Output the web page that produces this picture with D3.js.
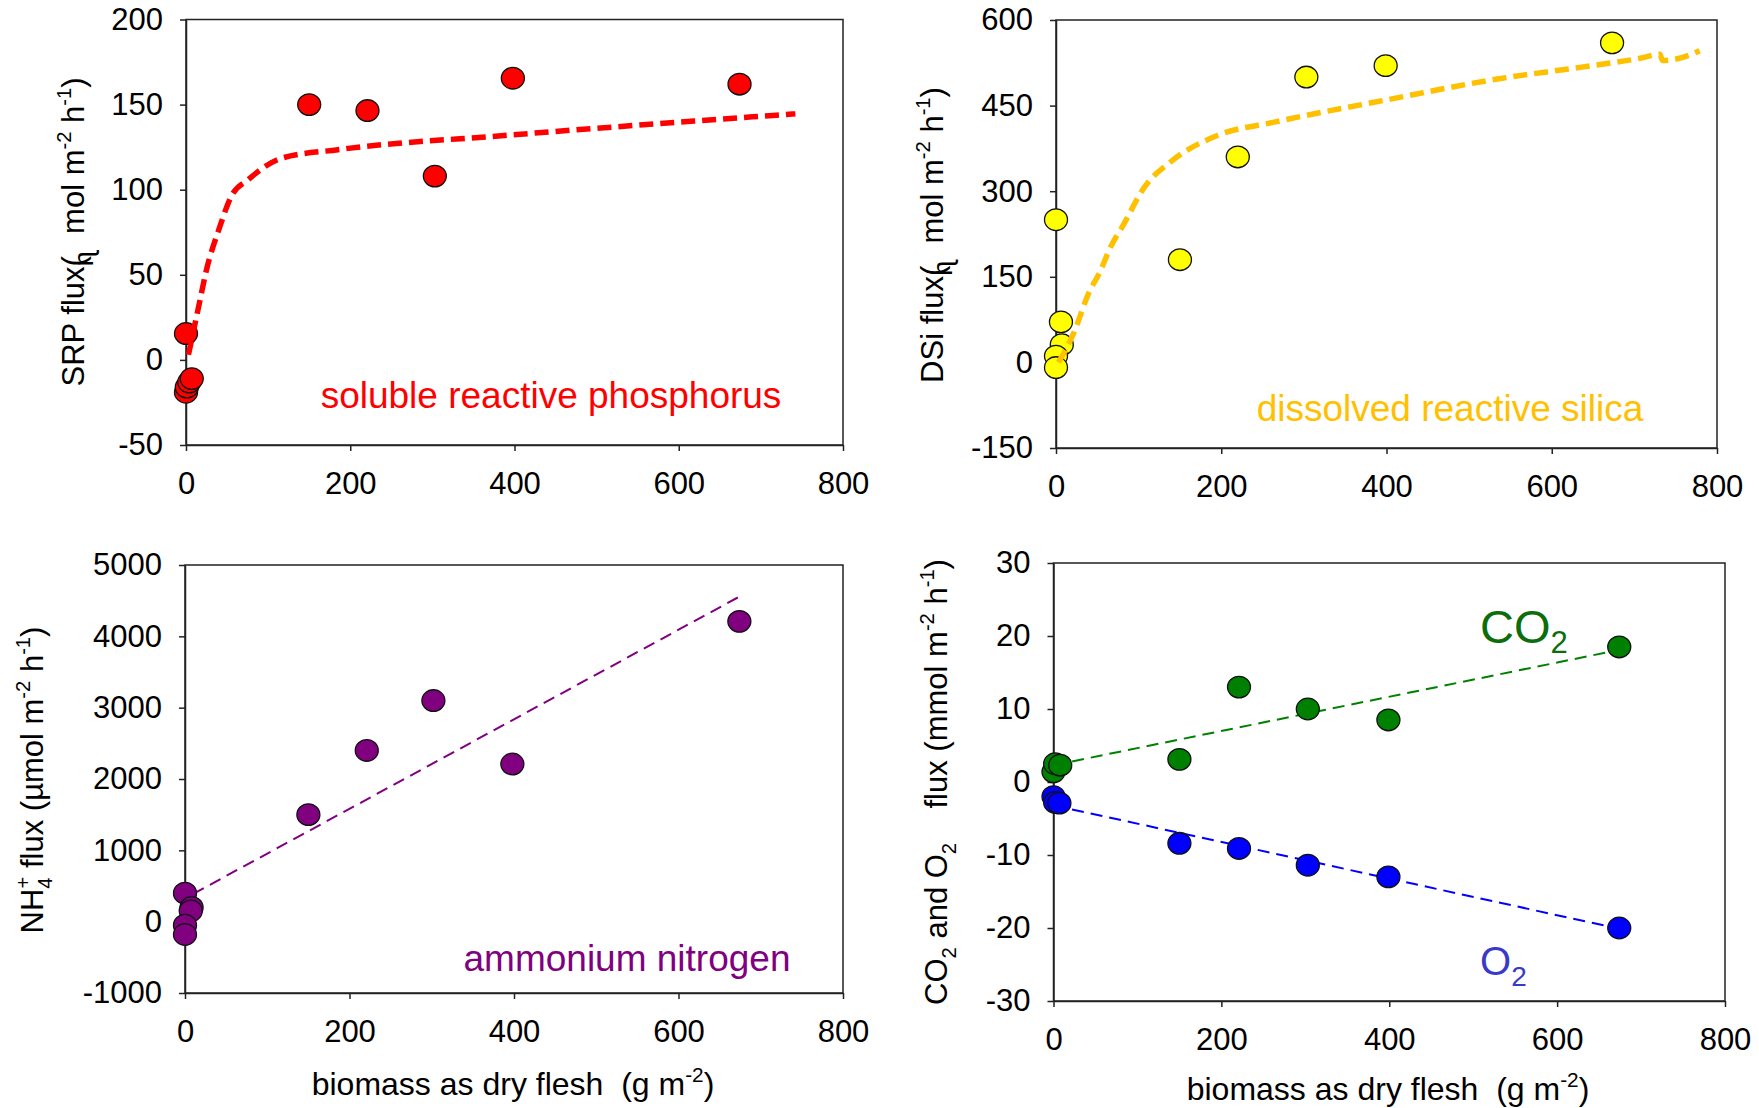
<!DOCTYPE html>
<html lang='en'>
<head>
<meta charset='UTF-8'>
<title>Nutrient and gas fluxes vs biomass</title>
<style>
  body { margin: 0; background: #fff; }
  svg text { font-family: 'Liberation Sans', Arial, sans-serif; white-space: pre; }
</style>
</head>
<body>
<svg id='chart' width='1759' height='1108'></svg>
<script src='https://d3js.org/d3.v7.min.js'></script>
<script>
// shared x axis
const xTicks = [0, 200, 400, 600, 800];

// soluble reactive phosphorus
const srpBiomass = [0, 0, 1, 4, 7, 150, 221, 303, 398, 674];
const srpFlux = [15.5, -19, -16, -13, -11, 150, 146.5, 108, 165.5, 162];
const srpFitX = [3, 17, 24, 41, 55, 76, 117, 185, 392, 742];
const srpFitY = [3, 35, 51, 78, 96, 106, 118.6, 123.5, 132, 144.6];
const srpTicks = [-50, 0, 50, 100, 150, 200];

// dissolved reactive silica
const dsiBiomass = [0, 6, 7, 0, 0, 150, 220, 303, 399, 673];
const dsiFlux = [250, 71, 31, 11, -9, 180, 360, 500, 520, 560];
const dsiFitX = [3, 21, 41, 52, 67, 80, 107, 141, 196, 264, 400, 536, 634, 707, 731, 734, 752, 779];
const dsiFitY = [0, 50, 126, 155, 205, 237, 307, 354, 398, 421, 460, 497, 517, 533, 540, 529, 532, 546];
const dsiTicks = [-150, 0, 150, 300, 450, 600];

// ammonium nitrogen
const nh4Biomass = [0, 8, 7, 0, 0, 150, 221, 302, 398, 674];
const nh4Flux = [400, 200, 150, -50, -180, 1500, 2400, 3100, 2210, 4210];
const nh4TrendX = [10, 673];
const nh4TrendY = [390, 4550];
const nh4Ticks = [-1000, 0, 1000, 2000, 3000, 4000, 5000];

// CO2 and O2
const co2Biomass = [0, 2, 8, 150, 221, 303, 399, 674];
const co2Flux = [1.4, 2.5, 2.3, 3.1, 13, 10, 8.5, 18.5];
const co2TrendX = [0, 674];
const co2TrendY = [2.3, 18.1];
const o2Biomass = [0, 2, 7, 150, 221, 303, 399, 674];
const o2Flux = [-2, -2.8, -2.9, -8.4, -9.1, -11.4, -13, -20];
const o2TrendX = [0, 674];
const o2TrendY = [-3.2, -20.1];
const gasTicks = [-30, -20, -10, 0, 10, 20, 30];

const svg = d3.select('#chart');
const zip = (a, b) => a.map((v, i) => [v, b[i]]);
const plain = d => String(d);

function rich(sel, parts, base) {
  let shift = 0;
  parts.forEach(([s, kind, dx, size]) => {
    const target = kind === 'sup' ? -base * 0.42 : kind === 'sub' ? base * 0.28 : 0;
    sel.append('tspan')
      .attr('dy', target - shift)
      .attr('dx', dx || 0)
      .attr('font-size', size || (kind ? base * 0.65 : base))
      .text(s);
    shift = target;
  });
}

function panel(o) {
  const x = d3.scaleLinear().domain([0, 800]).range([o.left, o.right]);
  const y = d3.scaleLinear().domain(d3.extent(o.yTicks)).range([o.bottom, o.top]);
  const g = svg.append('g');

  g.append('rect')
    .attr('x', o.left).attr('y', o.top)
    .attr('width', o.right - o.left).attr('height', o.bottom - o.top)
    .attr('fill', 'none').attr('stroke', '#222').attr('stroke-width', 1.5);

  const ax = g.append('g')
    .attr('transform', `translate(0,${o.bottom})`)
    .call(d3.axisBottom(x).tickValues(xTicks).tickFormat(plain).tickSize(6).tickSizeOuter(0).tickPadding(21));
  const ay = g.append('g')
    .attr('transform', `translate(${o.left},0)`)
    .call(d3.axisLeft(y).tickValues(o.yTicks).tickFormat(plain).tickSize(6).tickSizeOuter(0).tickPadding(17));
  [ax, ay].forEach(a => {
    a.selectAll('text').attr('font-size', 31).attr('fill', '#000').attr('font-family', null);
    a.selectAll('line, path').attr('stroke', '#222').attr('stroke-width', 1.5);
  });

  const t = g.append('text')
    .attr('transform', `translate(${o.titleX},${o.titleY}) rotate(-90)`)
    .attr('text-anchor', 'middle').attr('fill', '#000');
  rich(t, o.title, 31);
  return { x, y, g };
}

function dots(p, xs, ys, fill) {
  p.g.append('g').selectAll('ellipse')
    .data(zip(xs, ys))
    .join('ellipse')
    .attr('cx', d => p.x(d[0]))
    .attr('cy', d => p.y(d[1]))
    .attr('rx', 11.5).attr('ry', 10.8)
    .attr('fill', fill).attr('stroke', '#111').attr('stroke-width', 1.3);
}

function dashed(p, xs, ys, color, width, dash, curve) {
  const line = d3.line().x(d => p.x(d[0])).y(d => p.y(d[1])).curve(curve || d3.curveLinear);
  p.g.append('path')
    .attr('d', line(zip(xs, ys)))
    .attr('fill', 'none').attr('stroke', color)
    .attr('stroke-width', width).attr('stroke-dasharray', dash);
}

function label(p, txt, cx, by, color, size) {
  p.g.append('text').attr('x', cx).attr('y', by)
    .attr('text-anchor', 'middle').attr('font-size', size).attr('fill', color).text(txt);
}

function xTitle(cx, by) {
  const t = svg.append('text').attr('x', cx).attr('y', by).attr('text-anchor', 'middle').attr('fill', '#000');
  rich(t, [['biomass as dry flesh  (g m'], ['-2', 'sup'], [')']], 32);
}

// top left: SRP
const p1 = panel({
  left: 186, right: 843, top: 19.5, bottom: 445, yTicks: srpTicks,
  titleX: 84, titleY: 232,
  title: [['SRP flux('], ['\u0273', 'sub', -10, 27], ['  mol m'], ['-2', 'sup'], [' h'], ['-1', 'sup'], [')']]
});
dots(p1, srpBiomass, srpFlux, '#ff0000');
dashed(p1, srpFitX, srpFitY, '#ff0000', 5.5, '14,7', d3.curveMonotoneX);
label(p1, 'soluble reactive phosphorus', 551, 408, '#ff0000', 37);

// top right: DSi
const p2 = panel({
  left: 1056, right: 1717, top: 20, bottom: 448, yTicks: dsiTicks,
  titleX: 943, titleY: 235,
  title: [['DSi flux('], ['\u0273', 'sub', -10, 27], ['  mol m'], ['-2', 'sup'], [' h'], ['-1', 'sup'], [')']]
});
dots(p2, dsiBiomass, dsiFlux, '#ffff00');
dashed(p2, dsiFitX, dsiFitY, '#ffc000', 5.5, '14,7', d3.curveMonotoneX);
label(p2, 'dissolved reactive silica', 1450, 421, '#ffc000', 37);

// bottom left: NH4+
const p3 = panel({
  left: 185, right: 843, top: 565, bottom: 993, yTicks: nh4Ticks,
  titleX: 43, titleY: 780,
  title: [['NH'], ['4', 'sub'], ['+', 'sup', -11], [' flux (\u00b5mol m'], ['-2', 'sup'], [' h'], ['-1', 'sup'], [')']]
});
dashed(p3, nh4TrendX, nh4TrendY, '#800080', 2, '12,7');
dots(p3, nh4Biomass, nh4Flux, '#800080');
label(p3, 'ammonium nitrogen', 627, 971, '#800080', 37);
xTitle(513, 1095);

// bottom right: CO2 and O2
const p4 = panel({
  left: 1053.5, right: 1725, top: 563, bottom: 1001, yTicks: gasTicks,
  titleX: 947, titleY: 782,
  title: [['CO'], ['2', 'sub'], [' and O'], ['2', 'sub'], ['    flux (mmol m'], ['-2', 'sup'], [' h'], ['-1', 'sup'], [')']]
});
dashed(p4, co2TrendX, co2TrendY, '#008000', 2, '12,7');
dashed(p4, o2TrendX, o2TrendY, '#0000ff', 2, '12,7');
dots(p4, co2Biomass, co2Flux, '#008000');
dots(p4, o2Biomass, o2Flux, '#0000ff');
const co2Label = p4.g.append('text').attr('x', 1480).attr('y', 643).attr('fill', '#0b6e0b');
co2Label.append('tspan').attr('font-size', 47).text('CO');
co2Label.append('tspan').attr('font-size', 31).attr('dy', 10).text('2');
const o2Label = p4.g.append('text').attr('x', 1480).attr('y', 975).attr('fill', '#3a3ac8');
o2Label.append('tspan').attr('font-size', 40).text('O');
o2Label.append('tspan').attr('font-size', 28).attr('dy', 11).text('2');
xTitle(1388, 1100);
</script>
</body>
</html>
